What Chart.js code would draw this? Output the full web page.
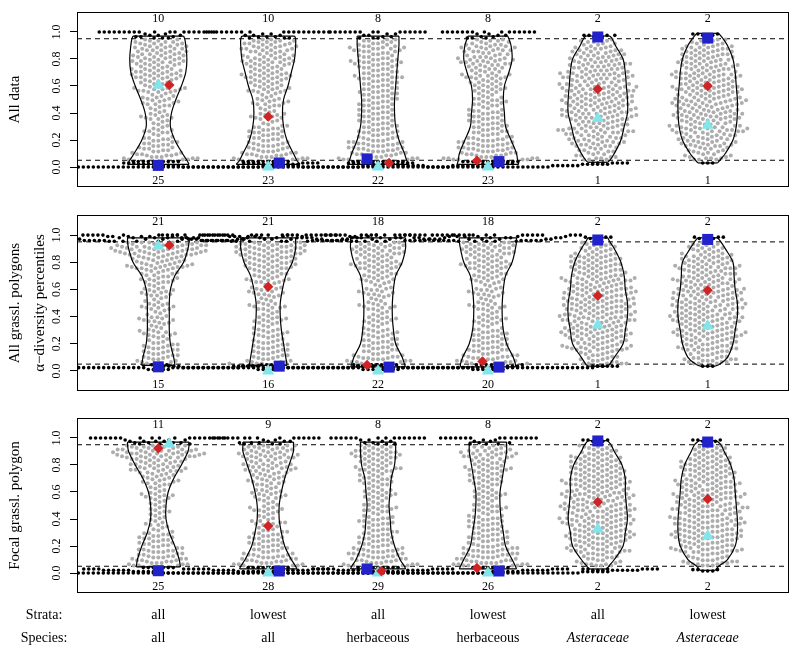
<!DOCTYPE html>
<html>
<head>
<meta charset="utf-8">
<title>alpha-diversity percentiles</title>
<script src="https://cdn.jsdelivr.net/npm/chart.js@4.4.1/dist/chart.umd.min.js"></script>
<style>
  body { margin: 0; background: #fff; }
  #page { position: relative; width: 800px; height: 650px; }
  canvas { position: absolute; left: 0; }
</style>
</head>
<body>
<div id="page">
  <canvas id="panel1" width="800" height="203" style="top:0px"></canvas>
  <canvas id="panel2" width="800" height="203" style="top:203px"></canvas>
  <canvas id="panel3" width="800" height="244" style="top:406px"></canvas>
</div>
<script>
// categories
const groups = [1, 2, 3, 4, 5, 6];
const strata = ['all', 'lowest', 'all', 'lowest', 'all', 'lowest'];
const species = ['all', 'all', 'herbaceous', 'herbaceous', 'Asteraceae', 'Asteraceae'];
const yTicks = [0, 0.2, 0.4, 0.6, 0.8, 1.0];

// gray points: counts per 0.1 bin starting at these values (percentiles on a 0.01 grid)
const grayBins = [0.05, 0.15, 0.25, 0.35, 0.45, 0.55, 0.65, 0.75, 0.85];
// violin half widths (percent of a category) at: lower end, these levels, upper end
const violinSteps = [0.05, 0.1, 0.2, 0.3, 0.4, 0.5, 0.6, 0.7, 0.8, 0.9, 0.95];

// ---- panel 1: All data
const p1Title = 'All data';
const p1High = [10, 10, 8, 8, 2, 2];
const p1Low = [25, 23, 22, 23, 1, 1];
const p1Gray = [
  [25, 17, 13, 14, 18, 24, 28, 30, 28],
  [27, 21, 16, 15, 16, 22, 25, 28, 29],
  [30, 25, 21, 20, 20, 21, 23, 25, 25],
  [32, 26, 20, 18, 17, 19, 23, 27, 26],
  [21, 30, 34, 39, 39, 37, 36, 32, 23],
  [22, 31, 36, 37, 37, 36, 35, 31, 25]
];
const p1BlackLow = [
  [[0, 40], [0.01, 10], [0.02, 8], [0.03, 7], [0.04, 10]],
  [[0, 36], [0.01, 9], [0.02, 8], [0.03, 6], [0.04, 10]],
  [[0, 30], [0.01, 10], [0.02, 8], [0.03, 7], [0.04, 11]],
  [[0, 25], [0.01, 12], [0.02, 11], [0.03, 9], [0.04, 12]],
  [[0.03, 3]],
  [[0.03, 3]]
];
const p1BlackHigh = [
  [[0.955, 3], [0.965, 3], [0.975, 3], [0.985, 2], [1, 19]],
  [[0.955, 3], [0.965, 3], [0.975, 3], [0.985, 2], [1, 19]],
  [[0.955, 3], [0.965, 2], [0.975, 2], [0.985, 2], [1, 15]],
  [[0.955, 3], [0.965, 2], [0.975, 2], [0.985, 2], [1, 15]],
  [[0.965, 2], [0.975, 4]],
  [[0.975, 3], [0.985, 3]]
];
const p1ViolinEnds = [[0.02, 0.97], [0.02, 0.97], [0.02, 0.97], [0.02, 0.97], [0.035, 0.97], [0.03, 0.99]];
const p1ViolinWidth = [
  [28, 26, 22, 15, 11, 12, 16, 21, 25, 26, 25, 24, 23],
  [29, 26, 23, 17, 14, 13, 14, 18, 21, 24, 25, 25, 24],
  [28, 26, 24, 19, 16, 15, 15, 16, 17, 18, 19, 19, 19],
  [28, 27, 26, 21, 16, 15, 14, 15, 19, 22, 21, 19, 18],
  [9, 11, 15, 21, 24, 27, 27, 26, 25, 23, 16, 13, 11],
  [9, 11, 16, 23, 26, 27, 27, 26, 25, 23, 18, 14, 10]
];
const p1Diamond = [0.607, 0.373, 0.03, 0.047, 0.577, 0.60];
const p1Triangle = [0.605, 0.0, 0.0, 0.0, 0.36, 0.31];
const p1Square = [0.012, 0.03, 0.06, 0.04, 0.963, 0.955];

// ---- panel 2: All grassl. polygons
const p2Title = ['All grassl. polygons', 'α−diversity percentiles'];
const p2High = [21, 21, 18, 18, 2, 2];
const p2Low = [15, 16, 22, 20, 1, 1];
const p2Gray = [
  [20, 16, 15, 15, 15, 16, 21, 33, 50],
  [22, 18, 16, 15, 15, 17, 22, 30, 40],
  [26, 19, 16, 15, 15, 16, 19, 26, 29],
  [27, 21, 16, 15, 15, 16, 19, 26, 30],
  [21, 33, 37, 39, 39, 37, 34, 30, 21],
  [25, 32, 36, 38, 38, 36, 33, 32, 21]
];
const p2BlackLow = [
  [[0.01, 5], [0.024, 28], [0.035, 7], [0.045, 5]],
  [[0.01, 5], [0.024, 30], [0.035, 8], [0.045, 5]],
  [[0.01, 8], [0.024, 40], [0.035, 10], [0.045, 8]],
  [[0.01, 7], [0.024, 36], [0.035, 10], [0.045, 7]],
  [[0.035, 3]],
  [[0.035, 3]]
];
const p2BlackHigh = [
  [[0.955, 6], [0.96, 12], [0.97, 8], [0.98, 8], [0.99, 6], [1, 23]],
  [[0.955, 6], [0.96, 12], [0.97, 8], [0.98, 8], [0.99, 6], [1, 23]],
  [[0.955, 5], [0.96, 10], [0.97, 7], [0.98, 7], [0.99, 5], [1, 20]],
  [[0.955, 5], [0.96, 10], [0.97, 7], [0.98, 7], [0.99, 5], [1, 20]],
  [[0.975, 3], [0.985, 3]],
  [[0.975, 3], [0.985, 3]]
];
const p2ViolinEnds = [[0.04, 0.98], [0.04, 0.98], [0.03, 0.98], [0.03, 0.98], [0.035, 0.98], [0.035, 0.98]];
const p2ViolinWidth = [
  [15, 15, 14, 11, 10, 10, 10, 11, 15, 23, 27, 28, 28],
  [17, 17, 16, 14, 12, 11, 11, 13, 16, 22, 25, 25, 25],
  [25, 24, 22, 16, 14, 13, 13, 14, 16, 22, 25, 25, 25],
  [25, 25, 23, 17, 14, 13, 13, 14, 16, 22, 25, 26, 26],
  [9, 11, 15, 23, 25, 27, 27, 25, 24, 21, 15, 11, 9],
  [7, 11, 18, 23, 25, 27, 27, 25, 24, 23, 16, 12, 9]
];
const p2Diamond = [0.926, 0.62, 0.043, 0.07, 0.553, 0.593];
const p2Triangle = [0.918, 0.0, 0.0, 0.0, 0.338, 0.331];
const p2Square = [0.03, 0.035, 0.028, 0.028, 0.964, 0.968];

// ---- panel 3: Focal grassl. polygon
const p3Title = 'Focal grassl. polygon';
const p3High = [11, 9, 8, 8, 2, 2];
const p3Low = [25, 28, 29, 26, 2, 2];
const p3Gray = [
  [28, 22, 15, 11, 11, 14, 20, 31, 46],
  [29, 20, 17, 14, 14, 17, 20, 27, 32],
  [31, 23, 18, 17, 16, 17, 18, 23, 26],
  [33, 25, 21, 18, 16, 16, 19, 23, 26],
  [22, 32, 36, 38, 37, 36, 35, 31, 22],
  [25, 34, 37, 37, 36, 35, 33, 29, 21]
];
const p3BlackLow = [
  [[0, 38], [0.01, 12], [0.02, 10], [0.03, 8], [0.04, 7]],
  [[0, 42], [0.01, 13], [0.02, 11], [0.03, 9], [0.04, 9]],
  [[0, 44], [0.01, 13], [0.02, 11], [0.03, 10], [0.04, 9]],
  [[0, 38], [0.01, 12], [0.02, 11], [0.03, 9], [0.04, 8]],
  [[0.02, 3], [0.03, 3]],
  [[0.015, 3], [0.025, 3]]
];
const p3BlackHigh = [
  [[0.955, 3], [0.965, 4], [0.975, 4], [0.985, 3], [1, 19]],
  [[0.955, 3], [0.965, 3], [0.975, 3], [0.985, 2], [1, 16]],
  [[0.955, 3], [0.965, 2], [0.975, 2], [0.985, 2], [1, 15]],
  [[0.955, 3], [0.965, 2], [0.975, 2], [0.985, 2], [1, 15]],
  [[0.975, 3], [0.985, 3]],
  [[0.975, 3], [0.985, 3]]
];
const p3ViolinEnds = [[0.045, 0.97], [0.03, 0.97], [0.03, 0.97], [0.03, 0.97], [0.03, 0.98], [0.02, 0.98]];
const p3ViolinWidth = [
  [20, 20, 19, 15, 10, 7, 7, 9, 14, 21, 27, 28, 28],
  [26, 25, 21, 15, 12, 10, 10, 12, 15, 19, 23, 23, 23],
  [25, 24, 20, 15, 12, 11, 10, 11, 12, 15, 16, 16, 16],
  [26, 25, 22, 16, 14, 12, 11, 11, 13, 15, 17, 17, 17],
  [8, 10, 15, 23, 25, 27, 26, 25, 25, 22, 15, 12, 9],
  [7, 10, 18, 25, 27, 27, 26, 25, 24, 21, 15, 12, 8]
];
const p3Diamond = [0.924, 0.348, 0.015, 0.037, 0.526, 0.548];
const p3Triangle = [0.955, 0.0, 0.0, 0.0, 0.326, 0.274];
const p3Square = [0.017, 0.015, 0.03, 0.015, 0.978, 0.97];

// ---- layout
const xMin = 0.26, xMax = 6.74, yMin = -0.148, yMax = 1.148;
const serif = '"Liberation Serif", "Times New Roman", serif';
const dotGap = 5.0; // swarm spacing in px
// sideways nudges of the summary markers (tenths of a category)
const diamondShift = [[1, 0, 1, -1, 0, 0], [1, 0, -1, -0.5, 0, 0], [0, 0, 0.3, -1, 0, 0]];
const triangleShift = [[0, 0, 0, 0, 0, 0], [0, 0, 0, 0, 0, 0], [1, 0, 0, 0, 0, 0]];
const squareShift = [[0, 1, -1, 1, 0, 0], [0, 1, 1, 1, 0, 0], [0, 1, -1, 1, 0, 0]];

const panels = [
  { id: 'panel1', title: p1Title, high: p1High, low: p1Low, gray: p1Gray, blackLow: p1BlackLow, blackHigh: p1BlackHigh,
    vEnds: p1ViolinEnds, vWidth: p1ViolinWidth, diamond: p1Diamond, triangle: p1Triangle, square: p1Square, padBottom: 16 },
  { id: 'panel2', title: p2Title, high: p2High, low: p2Low, gray: p2Gray, blackLow: p2BlackLow, blackHigh: p2BlackHigh,
    vEnds: p2ViolinEnds, vWidth: p2ViolinWidth, diamond: p2Diamond, triangle: p2Triangle, square: p2Square, padBottom: 15 },
  { id: 'panel3', title: p3Title, high: p3High, low: p3Low, gray: p3Gray, blackLow: p3BlackLow, blackHigh: p3BlackHigh,
    vEnds: p3ViolinEnds, vWidth: p3ViolinWidth, diamond: p3Diamond, triangle: p3Triangle, square: p3Square, padBottom: 57, last: true }
];

function groupValues(p, g) {
  const vals = [], dark = [];
  p.blackLow[g].forEach(([v, n]) => { for (let j = 0; j < n; j++) { vals.push(v); dark.push(true); } });
  // each bin's points sit on the ten 0.01 steps of the bin, shared out in turn
  p.gray[g].forEach((n, k) => {
    for (let j = 0; j < n; j++) { vals.push(grayBins[k] + 0.005 + 0.01 * (j % 10)); dark.push(false); }
  });
  p.blackHigh[g].forEach(([v, n]) => { for (let j = 0; j < n; j++) { vals.push(v); dark.push(true); } });
  return { vals, dark };
}

// beeswarm: place each point (ascending) as close to the centre as possible
function swarm(vals, ky, d) {
  const order = vals.map((v, i) => i).sort((a, b) => vals[a] - vals[b]);
  const placed = [];
  const out = new Array(vals.length);
  for (const i of order) {
    const y = vals[i] * ky;
    const near = [];
    for (let j = placed.length - 1; j >= 0; j--) {
      const dy = y - placed[j].y;
      if (dy >= d) break;
      near.push([placed[j].x, Math.sqrt(d * d - dy * dy)]);
    }
    const cands = [0];
    near.forEach(([px, w]) => cands.push(px - w, px + w));
    cands.sort((a, b) => Math.abs(a) - Math.abs(b));
    let x = 0;
    for (const c of cands) {
      if (near.every(([px, w]) => Math.abs(c - px) >= w - 1e-6)) { x = c; break; }
    }
    placed.push({ x, y });
    out[i] = x;
  }
  return out;
}

function violinSets(p) {
  const sets = [];
  groups.forEach((g, i) => {
    const [lo, hi] = p.vEnds[i];
    const lv = [lo, ...violinSteps, hi];
    const w = p.vWidth[i].map(v => v / 100);
    const line = { showLine: true, borderColor: '#000', borderWidth: 1.2, pointRadius: 0, fill: false, order: 1, clip: 0 };
    sets.push({ ...line, tension: 0.35, data: lv.map((y, k) => ({ x: g - w[k], y })) });
    sets.push({ ...line, tension: 0.35, data: lv.map((y, k) => ({ x: g + w[k], y })) });
    sets.push({ ...line, tension: 0, data: [{ x: g - w[0], y: lo }, { x: g + w[0], y: lo }] });
    sets.push({ ...line, tension: 0, data: [{ x: g - w[12], y: hi }, { x: g + w[12], y: hi }] });
  });
  return sets;
}

function labelPlugin(p) {
  return {
    id: 'labels',
    afterDraw(chart) {
      const { ctx, chartArea: a, scales: { x, y } } = chart;
      ctx.save();
      ctx.strokeStyle = '#000';
      ctx.lineWidth = 1;
      ctx.strokeRect(Math.round(a.left) + 0.5, Math.round(a.top) + 0.5, Math.round(a.right - a.left) - 1, Math.round(a.bottom - a.top) - 1);
      ctx.fillStyle = '#000';
      ctx.textAlign = 'center';
      ctx.textBaseline = 'middle';
      ctx.font = '12px ' + serif;
      y.ticks.forEach(t => {
        ctx.save();
        ctx.translate(a.left - 20, y.getPixelForValue(t.value));
        ctx.rotate(-Math.PI / 2);
        ctx.fillText(t.value.toFixed(1), 0, 0);
        ctx.restore();
      });
      groups.forEach((g, i) => {
        const px = x.getPixelForValue(g);
        ctx.fillText(String(p.high[i]), px, y.getPixelForValue(1.1));
        ctx.fillText(String(p.low[i]), px, y.getPixelForValue(-0.1));
      });
      if (p.last) {
        ctx.font = '14px ' + serif;
        ctx.fillText('Strata:', 44, a.bottom + 22);
        ctx.fillText('Species:', 44, a.bottom + 45);
        groups.forEach((g, i) => {
          const px = x.getPixelForValue(g);
          ctx.font = '14px ' + serif;
          ctx.fillText(strata[i], px, a.bottom + 22);
          ctx.font = (species[i] === 'Asteraceae' ? 'italic ' : '') + '14px ' + serif;
          ctx.fillText(species[i], px, a.bottom + 45);
        });
      }
      ctx.restore();
    }
  };
}

panels.forEach((p, pi) => {
  const dashed = [0.05, 0.95].map(v => ({
    data: [{ x: xMin, y: v }, { x: xMax, y: v }], showLine: true, borderColor: '#000', borderWidth: 1,
    borderDash: [5, 4], pointRadius: 0, order: 3
  }));
  const grayDs = { data: [], pointRadius: 2.0, pointBackgroundColor: '#adadad', pointBorderWidth: 0, order: 2, clip: 0 };
  const blackDs = { data: [], pointRadius: 1.8, pointBackgroundColor: '#000', pointBorderWidth: 0, order: 2, clip: 0 };
  const marker = (vals, shift, style, radius, color) => ({
    data: groups.map((g, i) => ({ x: g + shift[i] * 0.1, y: vals[i] })),
    pointStyle: style, pointRadius: radius, pointBackgroundColor: color, pointBorderWidth: 0, order: 0, clip: 0
  });
  const chart = new Chart(document.getElementById(p.id), {
    type: 'scatter',
    data: {
      datasets: [
        marker(p.square, squareShift[pi], 'rect', 7.8, '#2222cc'),
        marker(p.diamond, diamondShift[pi], 'rectRot', 5.2, '#d02424'),
        marker(p.triangle, triangleShift[pi], 'triangle', 7, '#80e6ec'),
        ...violinSets(p),
        blackDs,
        grayDs,
        ...dashed
      ]
    },
    options: {
      responsive: false,
      animation: false,
      devicePixelRatio: 1,
      layout: { padding: { left: 0, right: 11, top: 12, bottom: p.padBottom } },
      plugins: { legend: { display: false }, tooltip: { enabled: false } },
      scales: {
        x: { type: 'linear', min: xMin, max: xMax, display: false },
        y: {
          type: 'linear', min: yMin, max: yMax,
          afterBuildTicks: s => { s.ticks = yTicks.map(v => ({ value: v })); },
          afterFit: s => { s.width = 77; },
          grid: { drawOnChartArea: false, drawTicks: true, tickLength: 7, color: '#000', tickColor: '#000' },
          border: { display: false },
          ticks: { display: false },
          title: {
            display: true, text: p.title, color: '#000',
            font: { family: serif, size: 15, lineHeight: 25 / 15 },
            padding: { top: 3, bottom: 0 }
          }
        }
      }
    },
    plugins: [labelPlugin(p)]
  });

  // lay out the swarm with the chart's own scales
  const xs = chart.scales.x, ys = chart.scales.y;
  const kx = xs.getPixelForValue(1) - xs.getPixelForValue(0);
  const ky = ys.getPixelForValue(0) - ys.getPixelForValue(1);
  groups.forEach((g, i) => {
    const { vals, dark } = groupValues(p, i);
    const off = swarm(vals, ky, dotGap);
    vals.forEach((v, k) => {
      (dark[k] ? blackDs : grayDs).data.push({ x: g + off[k] / kx, y: v });
    });
  });
  chart.update('none');
});
</script>
</body>
</html>
